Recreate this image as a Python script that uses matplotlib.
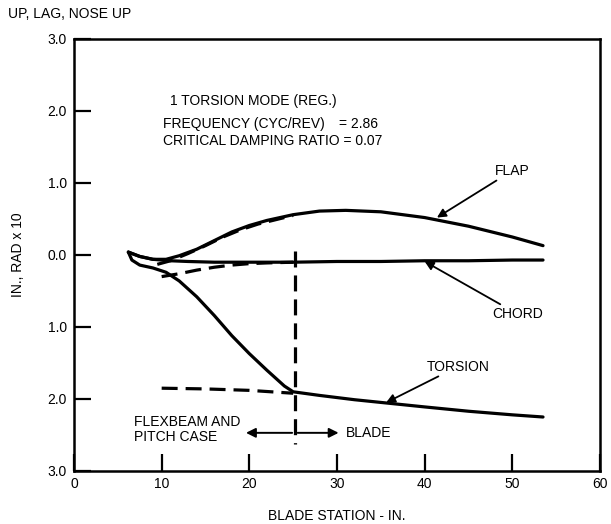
import matplotlib
matplotlib.use("Agg")
import matplotlib.pyplot as plt
from matplotlib.ticker import FuncFormatter

plt.rcParams["font.family"] = ["Liberation Sans", "DejaVu Sans"]

# Mode shape, blade station (in.) vs deflection (in., rad x 10)
FLAP_X = [6.2, 7.5, 9, 10.5, 12, 14, 16, 18, 20, 22, 25, 28, 31, 35, 40, 45, 50, 53.5]
FLAP_Y = [0.04, -0.02, -0.06, -0.06, -0.01, 0.08, 0.2, 0.32, 0.41, 0.48, 0.56, 0.61, 0.62, 0.6, 0.52, 0.4, 0.25, 0.13]

CHORD_X = [6.2, 7.5, 9, 11, 13, 16, 20, 25, 30, 35, 40, 45, 50, 53.5]
CHORD_Y = [0.04, -0.02, -0.06, -0.08, -0.09, -0.1, -0.1, -0.1, -0.09, -0.09, -0.08, -0.08, -0.07, -0.07]

TORSION_X = [6.2, 6.6, 7.5, 9, 10.5, 12, 14, 16, 18, 20, 22, 24, 25, 28, 32, 36, 40, 45, 50, 53.5]
TORSION_Y = [0.04, -0.07, -0.14, -0.18, -0.24, -0.36, -0.58, -0.84, -1.12, -1.37, -1.6, -1.82, -1.9, -1.95, -2.01, -2.06, -2.11, -2.17, -2.22, -2.25]

# flexbeam / pitch-case portion, second set (dashed)
FLAP_DX = [9.5, 11, 13, 15, 17, 19, 21, 23, 25]
FLAP_DY = [-0.13, -0.08, 0.02, 0.13, 0.25, 0.35, 0.43, 0.49, 0.55]

CHORD_DX = [10, 12, 14, 16, 18, 20, 22, 25]
CHORD_DY = [-0.3, -0.26, -0.21, -0.17, -0.14, -0.12, -0.11, -0.1]

TORSION_DX = [10, 15, 20, 25]
TORSION_DY = [-1.85, -1.86, -1.88, -1.92]

JUNCTION_X = 25.2

XTICKS = [0, 10, 20, 30, 40, 50, 60]
YTICKS = [3, 2, 1, 0, -1, -2, -3]

FS = 10

fig = plt.figure(figsize=(6.11, 5.24), dpi=100)
ax = fig.add_axes([74 / 611, 1 - 471 / 524, (600 - 74) / 611, (471 - 39) / 524])

lw = 2.3
dash = (0, (5, 2.5))
ax.plot(FLAP_X, FLAP_Y, color="black", lw=lw, solid_capstyle="round")
ax.plot(CHORD_X, CHORD_Y, color="black", lw=lw, solid_capstyle="round")
ax.plot(TORSION_X, TORSION_Y, color="black", lw=lw, solid_capstyle="round")
ax.plot(FLAP_DX, FLAP_DY, color="black", lw=lw, linestyle=dash)
ax.plot(CHORD_DX, CHORD_DY, color="black", lw=lw, linestyle=dash)
ax.plot(TORSION_DX, TORSION_DY, color="black", lw=lw, linestyle=dash)

# flexbeam / blade junction
ax.plot([JUNCTION_X, JUNCTION_X], [0.05, -2.62], color="black", lw=lw, linestyle=dash)
ax.annotate("", xy=(19.3, -2.47), xytext=(JUNCTION_X, -2.47),
            arrowprops=dict(arrowstyle="-|>", color="black", lw=1.4, mutation_scale=14))
ax.annotate("", xy=(30.5, -2.47), xytext=(JUNCTION_X, -2.47),
            arrowprops=dict(arrowstyle="-|>", color="black", lw=1.4, mutation_scale=14))
ax.text(31.0, -2.47, "BLADE", fontsize=FS, va="center", ha="left")
ax.text(6.9, -2.42, "FLEXBEAM AND\nPITCH CASE", fontsize=FS, va="center", ha="left",
        linespacing=1.05)

# curve labels
arrow = dict(arrowstyle="-|>", color="black", lw=1.3, mutation_scale=13, shrinkA=0, shrinkB=0)
ax.annotate("FLAP", xy=(41.4, 0.52), xytext=(48.0, 1.17), fontsize=FS,
            va="center", ha="left", arrowprops=arrow)
ax.annotate("CHORD", xy=(40.0, -0.09), xytext=(47.7, -0.82), fontsize=FS,
            va="center", ha="left", arrowprops=arrow)
ax.annotate("TORSION", xy=(35.6, -2.05), xytext=(40.2, -1.55), fontsize=FS,
            va="center", ha="left", arrowprops=arrow)

ax.text(11.0, 2.14, "1 TORSION MODE (REG.)", fontsize=FS, va="center", ha="left")
ax.text(10.2, 1.82, "FREQUENCY (CYC/REV)", fontsize=FS, va="center", ha="left")
ax.text(30.2, 1.82, "= 2.86", fontsize=FS, va="center", ha="left")
ax.text(10.2, 1.58, "CRITICAL DAMPING RATIO = 0.07", fontsize=FS, va="center", ha="left")

ax.set_xlim(0, 60)
ax.set_ylim(-3, 3)
ax.set_xticks(XTICKS)
ax.set_yticks(YTICKS)
ax.yaxis.set_major_formatter(FuncFormatter(lambda v, _: f"{abs(v):.1f}"))
ax.tick_params(direction="in", length=12, width=1.6, labelsize=FS, pad=5)
ax.tick_params(axis="x", pad=4)
for s in ax.spines.values():
    s.set_linewidth(1.8)

ax.set_xlabel("BLADE STATION - IN.", fontsize=FS, labelpad=13)
ax.set_ylabel("IN., RAD x 10", fontsize=FS, labelpad=16)
fig.text(8 / 611, 1 - 14 / 524, "UP, LAG, NOSE UP", fontsize=FS, va="center", ha="left")

fig.savefig("out.png", dpi=100)
